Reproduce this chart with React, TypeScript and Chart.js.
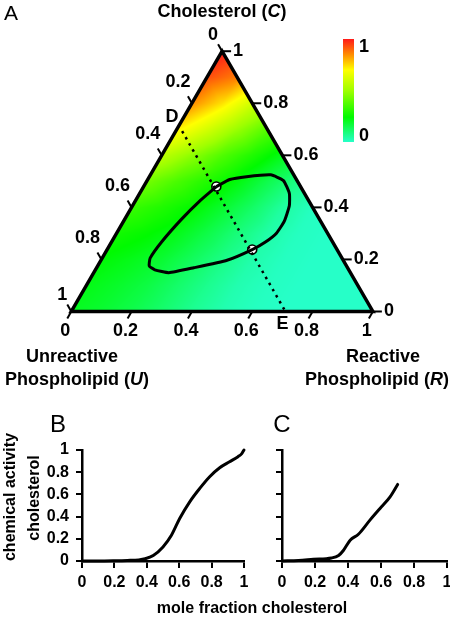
import React, { useEffect, useRef } from "react";
import { Chart, registerables } from "chart.js";

Chart.register(...registerables);

// ---------------- data ----------------
const H = Math.sqrt(3) / 2;

// ternary axis ticks (same values on the three edges)
const TERN_TICKS = [0, 0.2, 0.4, 0.6, 0.8, 1];
const TERN_TICK_LABELS = ["0", "0.2", "0.4", "0.6", "0.8", "1"];

// triangle corners (C, R): U-corner, R-corner, C-corner (closed, one extra segment for a clean join)
const TRI_C = [0, 0, 1, 0, 0];
const TRI_R = [0, 1, 0, 0, 1];

// two-phase boundary loop (C, R)
const LOOP_C = [0.48, 0.507, 0.518, 0.525, 0.503, 0.454, 0.406, 0.346, 0.302, 0.268, 0.238, 0.197, 0.168, 0.149, 0.16, 0.175, 0.205, 0.268, 0.354, 0.428, 0.48];
const LOOP_R = [0.241, 0.272, 0.322, 0.399, 0.452, 0.496, 0.52, 0.533, 0.53, 0.511, 0.481, 0.418, 0.322, 0.249, 0.197, 0.171, 0.159, 0.166, 0.188, 0.215, 0.241];

// tie line D–E (C, R)
const TIE_C = [0.693, 0];
const TIE_R = [0.021, 0.71];
const TIE_LABELS = ["D", "E"];

// marked compositions on the loop
const MARK_C = [0.48, 0.238];
const MARK_R = [0.241, 0.481];

// cholesterol chemical activity, rows C = 0, 0.1 … 1, columns R = 0, 0.1 … (1 - C)
const ACTIVITY_GRID = [
  [0.2, 0.18, 0.15, 0.11, 0.065, 0.03, 0.01, 0, 0, 0, 0],
  [0.215, 0.19, 0.16, 0.115, 0.07, 0.03, 0.01, 0, 0, 0],
  [0.235, 0.21, 0.18, 0.13, 0.08, 0.035, 0.01, 0, 0],
  [0.27, 0.245, 0.21, 0.155, 0.095, 0.04, 0.01, 0],
  [0.33, 0.29, 0.245, 0.185, 0.12, 0.05, 0.01],
  [0.43, 0.36, 0.295, 0.225, 0.15, 0.08],
  [0.56, 0.47, 0.37, 0.29, 0.21],
  [0.72, 0.61, 0.49, 0.38],
  [0.85, 0.74, 0.6],
  [0.93, 0.87],
  [1],
];

// colour scale
const CMAP_STOPS = [0, 0.24, 0.5, 0.7, 0.85, 1];
const CMAP_COLORS = [
  [38, 255, 200],
  [0, 250, 0],
  [160, 255, 0],
  [255, 255, 0],
  [255, 140, 0],
  [255, 25, 25],
];
const CBAR_LABELS = ["0", "1"];

// panel B and C curves
const AXIS_TICKS = [0, 0.2, 0.4, 0.6, 0.8, 1];
const AXIS_TICK_LABELS = ["0", "0.2", "0.4", "0.6", "0.8", "1"];

const B_X = [0, 0.1, 0.2, 0.28, 0.35, 0.39, 0.44, 0.5, 0.552, 0.603, 0.665, 0.727, 0.788, 0.85, 0.911, 0.963, 0.985, 1];
const B_Y = [0, 0, 0.002, 0.005, 0.01, 0.02, 0.05, 0.127, 0.232, 0.383, 0.533, 0.654, 0.759, 0.84, 0.894, 0.94, 0.965, 1];

const C_X = [0, 0.1, 0.19, 0.3, 0.343, 0.373, 0.413, 0.463, 0.533, 0.594, 0.655, 0.701];
const C_Y = [0, 0.005, 0.015, 0.027, 0.05, 0.097, 0.187, 0.241, 0.368, 0.473, 0.578, 0.69];

// ---------------- helpers ----------------
const FONT = '"Liberation Sans", Arial, Helvetica, sans-serif';

function toXY(c: number, r: number) {
  return { x: r + c / 2, y: c * H };
}

function gridAt(i: number, j: number) {
  const ii = Math.max(0, Math.min(10, i));
  const row = ACTIVITY_GRID[ii];
  const jj = Math.max(0, Math.min(row.length - 1, j));
  return row[jj];
}

function activity(c: number, r: number) {
  const ci = Math.max(0, Math.min(10, c * 10));
  const ri = Math.max(0, Math.min(10, r * 10));
  let i = Math.floor(ci);
  let j = Math.floor(ri);
  if (i >= 10) i = 9;
  if (j >= 10) j = 9;
  const fc = ci - i;
  const fr = ri - j;
  if (fc + fr <= 1) {
    return gridAt(i, j) * (1 - fc - fr) + gridAt(i + 1, j) * fc + gridAt(i, j + 1) * fr;
  }
  return gridAt(i + 1, j + 1) * (fc + fr - 1) + gridAt(i + 1, j) * (1 - fr) + gridAt(i, j + 1) * (1 - fc);
}

function cmap(v: number) {
  const t = Math.max(0, Math.min(1, v));
  for (let k = 0; k < CMAP_STOPS.length - 1; k++) {
    if (t <= CMAP_STOPS[k + 1]) {
      const f = (t - CMAP_STOPS[k]) / (CMAP_STOPS[k + 1] - CMAP_STOPS[k]);
      const a = CMAP_COLORS[k];
      const b = CMAP_COLORS[k + 1];
      return [a[0] + (b[0] - a[0]) * f, a[1] + (b[1] - a[1]) * f, a[2] + (b[2] - a[2]) * f];
    }
  }
  return CMAP_COLORS[CMAP_COLORS.length - 1];
}

function drawRich(ctx: CanvasRenderingContext2D, segs: { t: string; it?: boolean }[], cx: number, cy: number, size: number) {
  const fonts = segs.map((s) => `${s.it ? "italic " : ""}bold ${size}px ${FONT}`);
  const widths = segs.map((s, k) => {
    ctx.font = fonts[k];
    return ctx.measureText(s.t).width;
  });
  const total = widths.reduce((a, b) => a + b, 0);
  let x = cx - total / 2;
  ctx.textAlign = "left";
  ctx.textBaseline = "middle";
  segs.forEach((s, k) => {
    ctx.font = fonts[k];
    ctx.fillText(s.t, x, cy);
    x += widths[k];
  });
}

// ---------------- ternary plugins ----------------
function tp(chart: any, c: number, r: number) {
  const p = toXY(c, r);
  return { x: chart.scales.x.getPixelForValue(p.x), y: chart.scales.y.getPixelForValue(p.y) };
}

const heatmapPlugin = {
  id: "heatmap",
  beforeDatasetsDraw(chart: any) {
    const ctx = chart.ctx as CanvasRenderingContext2D;
    const xs = chart.scales.x;
    const ys = chart.scales.y;
    const a = tp(chart, 0, 0);
    const b = tp(chart, 0, 1);
    const c = tp(chart, 1, 0);
    const x0 = Math.floor(Math.min(a.x, b.x, c.x)) - 1;
    const x1 = Math.ceil(Math.max(a.x, b.x, c.x)) + 1;
    const y0 = Math.floor(Math.min(a.y, b.y, c.y)) - 1;
    const y1 = Math.ceil(Math.max(a.y, b.y, c.y)) + 1;
    const w = x1 - x0;
    const h = y1 - y0;
    const off = document.createElement("canvas");
    off.width = w;
    off.height = h;
    const octx = off.getContext("2d")!;
    const img = octx.createImageData(w, h);
    for (let py = 0; py < h; py++) {
      const Y = ys.getValueForPixel(y0 + py + 0.5);
      const C = Y / H;
      for (let px = 0; px < w; px++) {
        const X = xs.getValueForPixel(x0 + px + 0.5);
        const R = X - C / 2;
        const U = 1 - C - R;
        if (C < -0.004 || R < -0.004 || U < -0.004) continue;
        const col = cmap(activity(C, R));
        const idx = (py * w + px) * 4;
        img.data[idx] = col[0];
        img.data[idx + 1] = col[1];
        img.data[idx + 2] = col[2];
        img.data[idx + 3] = 255;
      }
    }
    octx.putImageData(img, 0, 0);
    ctx.drawImage(off, x0, y0);
  },
};

const ternaryTextPlugin = {
  id: "ternaryText",
  afterDatasetsDraw(chart: any) {
    const ctx = chart.ctx as CanvasRenderingContext2D;
    ctx.save();
    ctx.strokeStyle = "#000";
    ctx.fillStyle = "#000";
    ctx.lineWidth = 2;
    const L = 8;
    const tickFont = `bold 18px ${FONT}`;
    const line = (ax: number, ay: number, bx: number, by: number) => {
      ctx.beginPath();
      ctx.moveTo(ax, ay);
      ctx.lineTo(bx, by);
      ctx.stroke();
    };
    const text = (s: string, x: number, y: number, align: CanvasTextAlign, font = tickFont) => {
      ctx.font = font;
      ctx.textAlign = align;
      ctx.textBaseline = "middle";
      ctx.fillText(s, x, y);
    };
    TERN_TICKS.forEach((v, i) => {
      const lab = TERN_TICK_LABELS[i];
      // bottom edge: Reactive phospholipid fraction
      let p = tp(chart, 0, v);
      line(p.x, p.y, p.x - 0.5 * L, p.y + H * L);
      text(lab, p.x - 6, p.y + 20, "center");
      // right edge: cholesterol fraction
      p = tp(chart, v, 1 - v);
      line(p.x, p.y, p.x + 9, p.y);
      text(lab, p.x + 11, p.y, "left");
      // left edge: Unreactive phospholipid fraction
      p = tp(chart, 1 - v, 0);
      line(p.x, p.y, p.x - 0.5 * L, p.y - H * L);
      const multi = lab.length > 1;
      text(lab, p.x + (multi ? -14 : -9), p.y + (multi ? -21 : -16), "center");
    });

    // D / E labels at tie-line ends
    const d = tp(chart, TIE_C[0], TIE_R[0]);
    const e = tp(chart, TIE_C[1], TIE_R[1]);
    text(TIE_LABELS[0], d.x - 10, d.y - 14, "center");
    text(TIE_LABELS[1], e.x - 3, e.y + 13, "center");

    // titles
    ctx.fillStyle = "#000";
    drawRich(ctx, [{ t: "Cholesterol (" }, { t: "C", it: true }, { t: ")" }], 222, 12, 18);
    drawRich(ctx, [{ t: "Unreactive" }], 72, 357, 18);
    drawRich(ctx, [{ t: "Phospholipid (" }, { t: "U", it: true }, { t: ")" }], 77, 380, 18);
    drawRich(ctx, [{ t: "Reactive" }], 383, 357, 18);
    drawRich(ctx, [{ t: "Phospholipid (" }, { t: "R", it: true }, { t: ")" }], 377, 380, 18);

    text("A", 11, 14, "center", `21px ${FONT}`);

    // colour bar
    const cbX = 343, cbTop = 39, cbW = 11, cbH = 103;
    const g = ctx.createLinearGradient(0, cbTop + cbH, 0, cbTop);
    CMAP_STOPS.forEach((s, k) => {
      const cc = CMAP_COLORS[k];
      g.addColorStop(s, `rgb(${cc[0]},${cc[1]},${cc[2]})`);
    });
    ctx.fillStyle = g;
    ctx.fillRect(cbX, cbTop, cbW, cbH);
    ctx.fillStyle = "#000";
    text(CBAR_LABELS[1], cbX + cbW + 5, cbTop + 8, "left");
    text(CBAR_LABELS[0], cbX + cbW + 5, cbTop + cbH - 6, "left");
    ctx.restore();
  },
};

// ---------------- small activity charts ----------------
function makeActivityChart(
  canvas: HTMLCanvasElement,
  xs: number[],
  ys: number[],
  opt: { yWidth: number; padRight: number; showYLabels: boolean; extra: any }
) {
  const tickFont = { family: FONT, weight: "bold" as const, size: 16 };
  return new Chart(canvas, {
    type: "scatter",
    data: {
      datasets: [
        {
          data: xs.map((x, i) => ({ x, y: ys[i] })),
          showLine: true,
          borderColor: "#000",
          borderWidth: 3,
          pointRadius: 0,
          cubicInterpolationMode: "monotone",
          borderCapStyle: "round",
          clip: 6,
        } as any,
      ],
    },
    options: {
      responsive: false,
      animation: false,
      events: [],
      layout: { padding: { top: 50, right: opt.padRight, left: 0, bottom: 0 } },
      plugins: { legend: { display: false }, tooltip: { enabled: false } },
      scales: {
        x: {
          type: "linear",
          min: 0,
          max: 1,
          afterBuildTicks: (s: any) => {
            s.ticks = AXIS_TICKS.map((v) => ({ value: v }));
          },
          afterFit: (s: any) => {
            s.height = 59;
            s.paddingLeft = 0;
            s.paddingRight = 0;
          },
          grid: { drawOnChartArea: false, drawTicks: true, tickLength: 7, color: "#000", lineWidth: 2 },
          border: { display: true, color: "#000", width: 2.5 },
          ticks: {
            color: "#000",
            font: tickFont,
            padding: 5,
            maxRotation: 0,
            autoSkip: false,
            callback: (v: any) => AXIS_TICK_LABELS[AXIS_TICKS.indexOf(Number(v))] ?? "",
          },
        },
        y: {
          type: "linear",
          min: 0,
          max: 1,
          afterBuildTicks: (s: any) => {
            s.ticks = AXIS_TICKS.map((v) => ({ value: v }));
          },
          afterFit: (s: any) => {
            s.width = opt.yWidth;
            s.paddingTop = 0;
            s.paddingBottom = 0;
          },
          grid: { drawOnChartArea: false, drawTicks: true, tickLength: 6, color: "#000", lineWidth: 2 },
          border: { display: true, color: "#000", width: 2.5 },
          ticks: {
            color: "#000",
            font: tickFont,
            padding: 7,
            autoSkip: false,
            callback: (v: any) => (opt.showYLabels ? AXIS_TICK_LABELS[AXIS_TICKS.indexOf(Number(v))] ?? "" : ""),
          },
        },
      },
    },
    plugins: [opt.extra],
  } as any);
}

const bTextPlugin = {
  id: "bText",
  afterDraw(chart: any) {
    const ctx = chart.ctx as CanvasRenderingContext2D;
    ctx.save();
    ctx.fillStyle = "#000";
    ctx.font = `24px ${FONT}`;
    ctx.textAlign = "center";
    ctx.textBaseline = "middle";
    ctx.fillText("B", 58, 25);
    drawRich(ctx, [{ t: "mole fraction cholesterol" }], 252, 209, 16);
    ctx.translate(11, 97);
    ctx.rotate(-Math.PI / 2);
    drawRich(ctx, [{ t: "chemical activity" }], 0, 0, 16);
    ctx.restore();
    ctx.save();
    ctx.fillStyle = "#000";
    ctx.translate(35, 98);
    ctx.rotate(-Math.PI / 2);
    drawRich(ctx, [{ t: "cholesterol" }], 0, 0, 16);
    ctx.restore();
  },
};

const cTextPlugin = {
  id: "cText",
  afterDraw(chart: any) {
    const ctx = chart.ctx as CanvasRenderingContext2D;
    ctx.save();
    ctx.fillStyle = "#000";
    ctx.font = `24px ${FONT}`;
    ctx.textAlign = "center";
    ctx.textBaseline = "middle";
    ctx.fillText("C", 32, 25);
    ctx.restore();
  },
};

// ---------------- component ----------------
export default function App() {
  const ternRef = useRef<HTMLCanvasElement>(null);
  const bRef = useRef<HTMLCanvasElement>(null);
  const cRef = useRef<HTMLCanvasElement>(null);

  useEffect(() => {
    const pt = (c: number[], r: number[]) => c.map((cc, i) => toXY(cc, r[i]));
    const tern = new Chart(ternRef.current!, {
      type: "scatter",
      data: {
        datasets: [
          {
            data: pt(TRI_C, TRI_R),
            showLine: true,
            borderColor: "#000",
            borderWidth: 3.5,
            pointRadius: 0,
            borderJoinStyle: "miter",
          },
          {
            data: pt(LOOP_C, LOOP_R),
            showLine: true,
            borderColor: "#000",
            borderWidth: 3,
            pointRadius: 0,
            tension: 0.15,
            borderJoinStyle: "round",
          },
          {
            data: pt(TIE_C, TIE_R),
            showLine: true,
            borderColor: "#000",
            borderWidth: 2.5,
            borderDash: [2.5, 4.5],
            pointRadius: 0,
          },
          {
            data: pt(MARK_C, MARK_R),
            showLine: false,
            pointRadius: 4.5,
            pointBackgroundColor: "#fff",
            pointBorderColor: "#000",
            pointBorderWidth: 1.6,
          },
        ],
      },
      options: {
        responsive: false,
        animation: false,
        events: [],
        layout: { padding: 0 },
        plugins: { legend: { display: false }, tooltip: { enabled: false } },
        scales: {
          x: { type: "linear", display: false, min: -67 / 310, max: (450 - 67) / 310 },
          y: { type: "linear", display: false, min: -(400 - 315) / 310, max: 315 / 310 },
        },
      },
      plugins: [heatmapPlugin, ternaryTextPlugin],
    } as any);

    const b = makeActivityChart(bRef.current!, B_X, B_Y, { yWidth: 82, padRight: 206, showYLabels: true, extra: bTextPlugin });
    const c = makeActivityChart(cRef.current!, C_X, C_Y, { yWidth: 32, padRight: 3, showYLabels: false, extra: cTextPlugin });

    return () => {
      tern.destroy();
      b.destroy();
      c.destroy();
    };
  }, []);

  return (
    <div style={{ position: "absolute", left: 0, top: 0, width: 450, height: 620, background: "#fff", overflow: "hidden" }}>
      <canvas ref={ternRef} width={450} height={400} style={{ position: "absolute", left: 0, top: 0, display: "block" }} />
      <canvas ref={bRef} width={450} height={220} style={{ position: "absolute", left: 0, top: 400, display: "block" }} />
      <canvas ref={cRef} width={200} height={220} style={{ position: "absolute", left: 250, top: 400, display: "block" }} />
    </div>
  );
}
